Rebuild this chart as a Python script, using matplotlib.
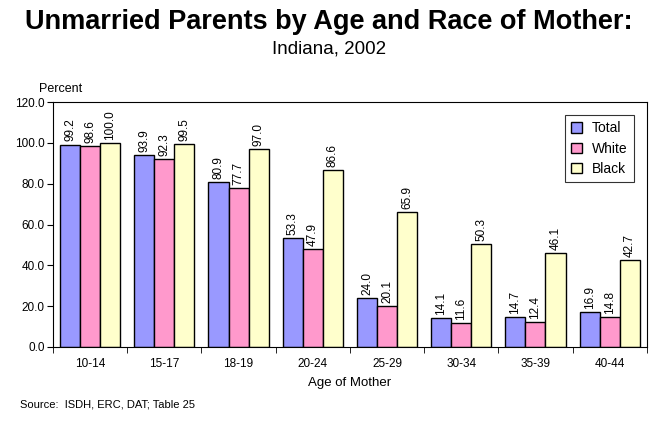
import matplotlib.pyplot as plt
import numpy as np

plt.rcParams['font.family'] = ['Liberation Sans', 'DejaVu Sans']

ages = ["10-14", "15-17", "18-19", "20-24", "25-29", "30-34", "35-39", "40-44"]
total = [99.2, 93.9, 80.9, 53.3, 24.0, 14.1, 14.7, 16.9]
white = [98.6, 92.3, 77.7, 47.9, 20.1, 11.6, 12.4, 14.8]
black = [100.0, 99.5, 97.0, 86.6, 65.9, 50.3, 46.1, 42.7]

series = [("Total", total, "#9999FF"), ("White", white, "#FF99CC"), ("Black", black, "#FFFFCC")]

fig = plt.figure(figsize=(6.58, 4.22), dpi=100)
ax = fig.add_axes([0.0805, 0.178, 0.9025, 0.58])

x = np.arange(len(ages))
w = 0.27
for i, (name, vals, col) in enumerate(series):
    pos = x + (i - 1) * w
    ax.bar(pos, vals, w, color=col, edgecolor='black', linewidth=1.0, label=name)
    for p, v in zip(pos, vals):
        ax.text(p, v + 1.5, "%.1f" % v, rotation=90, ha='center', va='bottom', fontsize=8.5)

ax.set_xlim(-0.5, len(ages) - 0.5)
ax.set_ylim(0, 120)
ax.set_yticks(np.arange(0, 121, 20))
ax.set_yticklabels(["%.1f" % t for t in np.arange(0, 121, 20)], fontsize=8.5)
ax.set_xticks(x)
ax.set_xticklabels(ages, fontsize=8.5)
ax.tick_params(axis='x', length=0, pad=8)
ax.set_xticks(np.arange(-0.5, len(ages), 1), minor=True)
ax.tick_params(axis='x', which='minor', length=4, direction='out')
ax.tick_params(axis='y', length=4, direction='out', pad=2)
for s in ax.spines.values():
    s.set_linewidth(0.8)
ax.set_xlabel("Age of Mother", fontsize=9.5, labelpad=5)

ax.legend(loc='upper right', bbox_to_anchor=(0.99, 0.975), fontsize=10, frameon=True,
          fancybox=False, edgecolor='black', handlelength=0.8, handleheight=0.8,
          borderpad=0.45, labelspacing=0.45, handletextpad=0.7)
ax.get_legend().get_frame().set_linewidth(0.8)

fig.text(0.5, 0.978, "Unmarried Parents by Age and Race of Mother:", ha='center', va='top',
         fontsize=19.5, fontweight='bold')
fig.text(0.5, 0.905, "Indiana, 2002", ha='center', va='top', fontsize=13.5)
fig.text(0.06, 0.775, "Percent", ha='left', va='bottom', fontsize=9)
fig.text(0.03, 0.03, "Source:  ISDH, ERC, DAT; Table 25", ha='left', va='bottom', fontsize=8)

fig.savefig("out.png", dpi=100)
